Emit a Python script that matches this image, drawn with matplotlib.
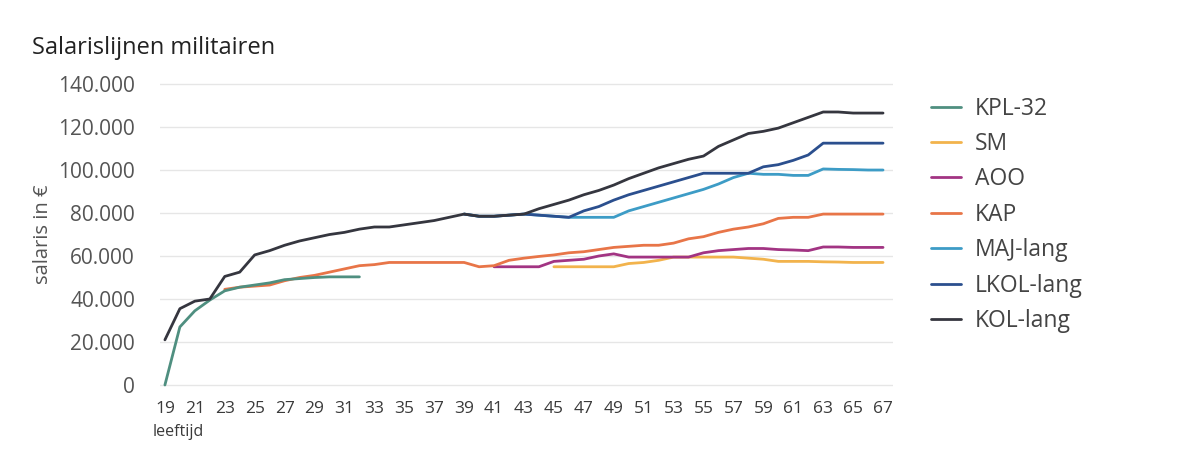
import numpy as np
import matplotlib.pyplot as plt
from matplotlib.ticker import FuncFormatter

plt.rcParams['font.family'] = ['Open Sans', 'DejaVu Sans']

# Salarislijnen per rang (leeftijd -> salaris in euro)
leeftijd_kpl = np.arange(19, 33)
kpl_32 = [0, 27000, 34500, 39500, 43800, 45500, 46500, 47500, 49000, 49500,
          50000, 50300, 50300, 50300]

leeftijd_sm = np.arange(45, 68)
sm = [55000, 55000, 55000, 55000, 55000, 56500, 57000, 58000, 59500, 59500,
      59500, 59500, 59500, 59000, 58500, 57500, 57500, 57500, 57300, 57200,
      57000, 57000, 57000]

leeftijd_aoo = np.arange(41, 68)
aoo = [55000, 55000, 55000, 55000, 57500, 58000, 58500, 60000, 61000, 59500,
       59500, 59500, 59500, 59500, 61500, 62500, 63000, 63500, 63500, 63000,
       62800, 62500, 64200, 64200, 64000, 64000, 64000]

leeftijd_kap = np.arange(23, 68)
kap = [44500, 45500, 46000, 46500, 48500, 50000, 51000, 52500, 54000, 55500,
       56000, 57000, 57000, 57000, 57000, 57000, 57000, 55000, 55500, 58000,
       59000, 59800, 60500, 61500, 62000, 63000, 64000, 64500, 65000, 65000,
       66000, 68000, 69000, 71000, 72500, 73500, 75000, 77500, 78000, 78000,
       79500, 79500, 79500, 79500, 79500]

leeftijd_maj = np.arange(39, 68)
maj_lang = [79500, 78500, 78500, 79000, 79500, 79000, 78500, 78000, 78000, 78000,
            78000, 81000, 83000, 85000, 87000, 89000, 91000, 93500, 96500, 98500,
            98000, 98000, 97500, 97500, 100500, 100300, 100200, 100000, 100000]

leeftijd_lkol = np.arange(39, 68)
lkol_lang = [79500, 78500, 78500, 79000, 79500, 79000, 78500, 78000, 81000, 83000,
             86000, 88500, 90500, 92500, 94500, 96500, 98500, 98500, 98500, 98500,
             101500, 102500, 104500, 107000, 112500, 112500, 112500, 112500, 112500]

leeftijd_kol = np.arange(19, 68)
kol_lang = [21000, 35500, 39000, 40000, 50500, 52500, 60500, 62500, 65000, 67000,
            68500, 70000, 71000, 72500, 73500, 73500, 74500, 75500, 76500, 78000,
            79500, 78500, 78500, 79000, 79500, 82000, 84000, 86000, 88500, 90500,
            93000, 96000, 98500, 101000, 103000, 105000, 106500, 111000, 114000, 117000,
            118000, 119500, 122000, 124500, 127000, 127000, 126500, 126500, 126500]

reeksen = [
    ('KPL-32', leeftijd_kpl, kpl_32, '#4f8f80'),
    ('SM', leeftijd_sm, sm, '#f2b34c'),
    ('AOO', leeftijd_aoo, aoo, '#a23483'),
    ('KAP', leeftijd_kap, kap, '#e87548'),
    ('MAJ-lang', leeftijd_maj, maj_lang, '#3d9cc6'),
    ('LKOL-lang', leeftijd_lkol, lkol_lang, '#2b4f8e'),
    ('KOL-lang', leeftijd_kol, kol_lang, '#35363f'),
]
x_ticks = np.arange(19, 68, 2)
y_ticks = np.arange(0, 140001, 20000)

fig = plt.figure(figsize=(12.01, 4.5), dpi=100)
ax = fig.add_axes([0.1332, 0.1373, 0.6104, 0.6831])

volgorde = {'KOL-lang': 3, 'KPL-32': 2.5}
for naam, x, y, kleur in reeksen:
    ax.plot(x, y, color=kleur, lw=2, label=naam,
            zorder=volgorde.get(naam, 2), solid_capstyle='round')

ax.set_xlim(18.67, 67.67)
ax.set_ylim(-1500, 141500)
ax.set_xticks(x_ticks)
ax.set_yticks(y_ticks)
ax.yaxis.set_major_formatter(FuncFormatter(lambda v, p: f"{int(v):,}".replace(',', '.')))
ax.tick_params(axis='y', length=0, pad=18, labelsize=15, labelcolor='#555555')
ax.tick_params(axis='x', length=0, pad=9, labelsize=12.5, labelcolor='#3a3a3a')
ax.grid(axis='y', color='#e6e6e6', lw=1)
ax.set_axisbelow(True)
for s in ax.spines.values():
    s.set_visible(False)

ax.set_ylabel('salaris in €', fontsize=14.5, color='#555555', labelpad=4)
fig.text(0.127, 0.03, 'leeftijd', fontsize=11.5, color='#3a3a3a')
fig.text(0.027, 0.88, 'Salarislijnen militairen', fontsize=17, color='#222222')

ax.legend(loc='upper left', bbox_to_anchor=(1.024, 1.016), frameon=False,
          fontsize=16.5, handlelength=1.3, handletextpad=0.6, labelspacing=0.5,
          labelcolor='#444444')

fig.savefig('out.png', dpi=100)
